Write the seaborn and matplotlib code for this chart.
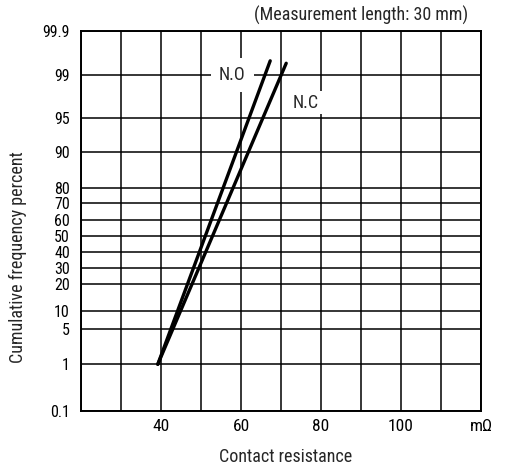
import numpy as np
import pandas as pd
import matplotlib
matplotlib.use("Agg")
import matplotlib.pyplot as plt
import seaborn as sns
from matplotlib import font_manager

# ---------------- data ----------------
series = ["N.O", "N.O", "N.C", "N.C"]
resistance = [39.2, 67.3, 39.2, 71.3]          # mΩ
cum_percent = [1.0, 99.29, 1.0, 99.24]         # cumulative frequency %

prob_ticks = [0.1, 1, 5, 10, 20, 30, 40, 50, 60, 70, 80, 90, 95, 99, 99.9]
prob_labels = ["0.1", "1", "5", "10", "20", "30", "40", "50", "60", "70",
               "80", "90", "95", "99", "99.9"]
x_ticks = [20, 30, 40, 50, 60, 70, 80, 90, 100, 110, 120]
x_labels = ["", "", "40", "", "60", "", "80", "", "100", "", "mΩ"]

# probability-paper scale of the original chart (relative grid spacing)
grid_pos = [0, 46.4, 81.4, 100, 126.7, 143, 158.7, 174.7, 191, 207.4,
            223, 258.7, 292.7, 335.7, 379.7]

df = pd.DataFrame({"series": series, "resistance": resistance,
                   "cum_percent": cum_percent})

# ---------------- style ----------------
sns.set_style("white")
names = {f.name for f in font_manager.fontManager.ttflist}
fam = [n for n in ["Liberation Sans Narrow", "DejaVu Sans Condensed",
                   "Roboto Condensed", "Open Sans Condensed"] if n in names]
plt.rcParams["font.family"] = fam + ["DejaVu Sans"]
plt.rcParams["font.stretch"] = "condensed"
FS = 13
TFS = 11.5
plt.rcParams["font.size"] = FS

fig = plt.figure(figsize=(5.05, 4.66), dpi=100)
ax = fig.add_axes([81 / 505, (466 - 410.7) / 466, 400 / 505, 379.7 / 466])


def fwd(p):
    return np.interp(p, prob_ticks, grid_pos)


def inv(v):
    return np.interp(v, grid_pos, prob_ticks)


ax.set_yscale("function", functions=(fwd, inv))
ax.set_ylim(0.1, 99.9)
ax.set_xlim(20, 120)

sns.lineplot(data=df, x="resistance", y="cum_percent", hue="series",
             palette={"N.O": "black", "N.C": "black"}, estimator=None,
             sort=False, legend=False, linewidth=2.4, ax=ax, zorder=5)

ax.set_yticks(prob_ticks)
ax.set_yticklabels(prob_labels)
ax.set_xticks(x_ticks)
ax.set_xticklabels(x_labels)
ax.yaxis.set_minor_locator(matplotlib.ticker.NullLocator())
ax.tick_params(axis="both", length=0, labelsize=TFS, colors="black")
ax.tick_params(axis="x", labelsize=12.5)
ax.tick_params(axis="y", pad=8)
ax.tick_params(axis="x", pad=6)

ax.grid(True, color="black", linewidth=1.1)
for sp in ax.spines.values():
    sp.set_color("black")
    sp.set_linewidth(1.4)

ax.set_xlabel("Contact resistance", fontsize=FS)
ax.set_ylabel("Cumulative frequency percent", fontsize=FS)
ax.xaxis.set_label_coords((286 - 81) / 400, (410.7 - 448) / 379.7)
ax.yaxis.set_label_coords((27 - 81) / 400, (410.7 - 257) / 379.7)

ax.text((468 - 81) / 400, (410.7 - 15) / 379.7, "(Measurement length: 30 mm)",
        transform=ax.transAxes, ha="right", va="center", fontsize=FS)

ax.text(57.8, 99.0, "N.O", ha="center", va="center", fontsize=FS, zorder=4,
        bbox=dict(boxstyle="square,pad=0.45", fc="white", ec="none"))
ax.text(76.2, 96.44, "N.C", ha="center", va="center", fontsize=FS, zorder=4,
        bbox=dict(boxstyle="square,pad=0.15", fc="white", ec="none"))

fig.savefig("out.png", dpi=100)
